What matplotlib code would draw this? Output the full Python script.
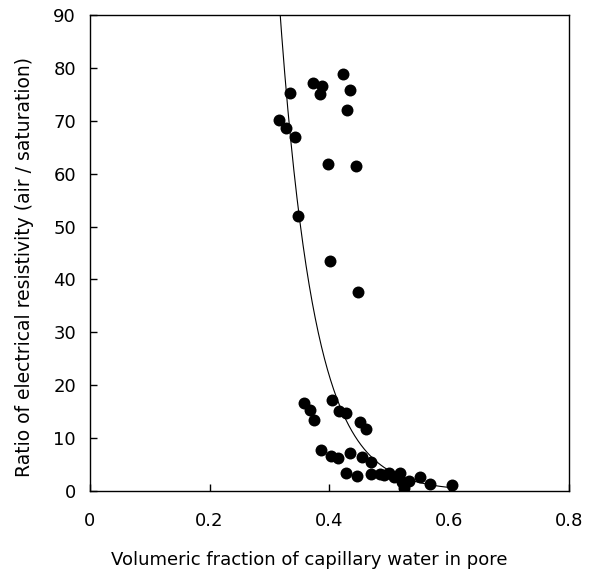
import numpy as np
import matplotlib
matplotlib.use('Agg')
import matplotlib.pyplot as plt

# measured points: volumetric fraction of capillary water vs resistivity ratio
water_frac = [0.316, 0.327, 0.335, 0.342, 0.348, 0.373, 0.388, 0.384, 0.422, 0.435,
              0.429, 0.397, 0.444, 0.401, 0.448,
              0.357, 0.367, 0.375, 0.405, 0.416, 0.428, 0.451, 0.461,
              0.386, 0.403, 0.414, 0.435, 0.455, 0.469,
              0.428, 0.446, 0.470, 0.484, 0.500, 0.518, 0.522, 0.533, 0.552,
              0.568, 0.605, 0.492, 0.508, 0.525]
resist_ratio = [70.1, 68.7, 75.2, 67.0, 51.9, 77.2, 76.6, 75.1, 78.8, 75.8,
                72.0, 61.8, 61.5, 43.4, 37.7,
                16.7, 15.4, 13.4, 17.2, 15.1, 14.8, 13.0, 11.7,
                7.7, 6.6, 6.2, 7.1, 6.5, 5.5,
                3.5, 2.9, 3.3, 3.2, 3.5, 3.5, 1.8, 1.9, 2.6,
                1.3, 1.1, 3.0, 2.6, 0.6]

# exponential fit y = A * exp(-B * x)
fit_A = 22026.0
fit_B = 17.3

fig = plt.figure(figsize=(5.95, 5.75), dpi=100)
ax = fig.add_axes([0.151, 0.146, 0.805, 0.828])

xs = np.linspace(0.30, 0.605, 300)
ax.plot(xs, fit_A * np.exp(-fit_B * xs), color='black', linewidth=0.8, zorder=2)
ax.scatter(water_frac, resist_ratio, s=74, color='black', linewidths=0, zorder=3)

ax.set_xlim(0, 0.8)
ax.set_ylim(0, 90)
ax.set_xticks([0, 0.2, 0.4, 0.6, 0.8])
ax.set_xticklabels(['0', '0.2', '0.4', '0.6', '0.8'])
ax.set_yticks(range(0, 91, 10))
ax.tick_params(direction='in', length=5, labelsize=13, width=1)
ax.tick_params(axis='x', pad=15)
ax.tick_params(axis='y', pad=10)
for sp in ax.spines.values():
    sp.set_linewidth(1.0)

ax.set_xlabel('Volumeric fraction of capillary water in pore', fontsize=13, labelpad=15)
ax.set_ylabel('Ratio of electrical resistivity (air / saturation)', fontsize=13.5, labelpad=14)
# labels sit a little off the axes centre
ax.xaxis.label.set_x(0.458)
ax.yaxis.label.set_y(0.47)

fig.savefig('out.png', dpi=100)
